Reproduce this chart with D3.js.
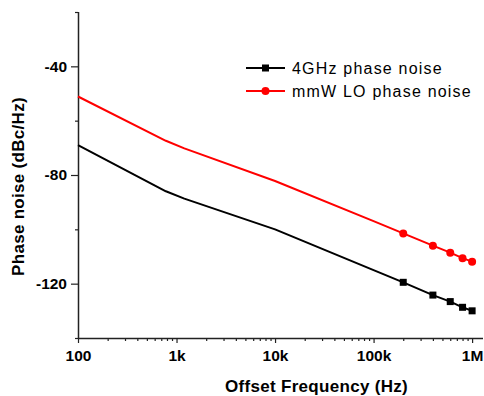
<!DOCTYPE html>
<html>
<head>
<meta charset="utf-8">
<script src="https://cdn.jsdelivr.net/npm/d3@7"></script>
<style>
  html, body { margin: 0; padding: 0; background: #fff; }
  svg { display: block; }
  text { font-family: "Liberation Sans", Arial, Helvetica, sans-serif; }
</style>
</head>
<body>
<svg id="chart" width="484" height="396"></svg>
<script>
// ---- data ----
const freqs = [100, 780, 1200, 10000, 100000, 200000, 400000, 600000, 800000, 1000000];
const noise4GHz = [-69.0, -86.0, -88.7, -100.0, -115.0, -119.5, -124.2, -126.6, -128.7, -130.0];
const noiseMmW  = [-51.1, -67.4, -70.2, -82.2, -97.0, -101.5, -106.0, -108.6, -110.6, -111.9];
const markerStart = 5; // markers drawn from 200k onward
const seriesNames = ["4GHz phase noise", "mmW LO phase noise"];
const xTickValues = [100, 1000, 10000, 100000, 1000000];
const xTickLabels = ["100", "1k", "10k", "100k", "1M"];
const yTickValues = [-20, -40, -60, -80, -100, -120, -140];
const yLabeled = [-40, -80, -120];

const svg = d3.select("#chart");
const plotLeft = 78, plotRight = 483, plotTop = 12, plotBottom = 338;

const x = d3.scaleLog().domain([100, 1.29e6]).range([plotLeft, plotRight]);
const y = d3.scaleLinear().domain([-140, -20]).range([plotBottom, plotTop]);

// ---- axes ----
const xMinor = [];
for (let d = 100; d < 1e6; d *= 10) for (let k = 2; k <= 9; k++) xMinor.push(d * k);
const xAxisMinor = d3.axisBottom(x).tickValues(xMinor).tickSize(3).tickFormat("");
const xAxisMajor = d3.axisBottom(x).tickValues(xTickValues).tickSize(5).tickPadding(7)
  .tickFormat((d, i) => xTickLabels[i]);

const gxm = svg.append("g").attr("transform", `translate(0,${plotBottom})`).call(xAxisMinor);
const gx = svg.append("g").attr("transform", `translate(0,${plotBottom})`).call(xAxisMajor);
[gxm, gx].forEach(g => {
  g.selectAll(".tick line").attr("stroke", "#222").attr("stroke-width", 1.2);
});
gxm.select(".domain").remove();
gx.select(".domain").attr("d", `M${plotLeft},0.5H${plotRight}`).attr("stroke", "#222").attr("stroke-width", 1.5);
gx.selectAll(".tick text").attr("fill", "#000").attr("font-size", "15.5px")
  .attr("font-weight", "bold").attr("font-family", "Liberation Sans, Arial, sans-serif");

const yAxis = d3.axisLeft(y).tickValues(yTickValues)
  .tickSize(0).tickPadding(5)
  .tickFormat(d => yLabeled.includes(d) ? d : "");
const gy = svg.append("g").attr("transform", `translate(${plotLeft},0)`).call(yAxis);
gy.select(".domain").attr("d", `M0.5,${plotTop}V${plotBottom}`).attr("stroke", "#222").attr("stroke-width", 1.5);
gy.selectAll(".tick line")
  .attr("x2", d => yLabeled.includes(d) ? -7 : -3)
  .attr("stroke", "#222").attr("stroke-width", 1.2);
gy.selectAll(".tick text").attr("x", -11).attr("fill", "#000").attr("font-size", "15.5px")
  .attr("font-weight", "bold").attr("font-family", "Liberation Sans, Arial, sans-serif");

// axis titles
svg.append("text")
  .attr("x", (plotLeft + plotRight) / 2 + 36).attr("y", 392)
  .attr("text-anchor", "middle").attr("font-size", "17px").attr("font-weight", "bold")
  .attr("letter-spacing", "0.3px")
  .text("Offset Frequency (Hz)");
svg.append("text")
  .attr("transform", `translate(24,${(96 + 277) / 2}) rotate(-90)`)
  .attr("text-anchor", "middle").attr("font-size", "17px").attr("font-weight", "bold")
  .attr("letter-spacing", "0.3px")
  .text("Phase noise (dBc/Hz)");

// ---- lines ----
const series = [
  { name: seriesNames[0], values: noise4GHz, color: "#000000", shape: "square" },
  { name: seriesNames[1], values: noiseMmW, color: "#ff0000", shape: "circle" }
];
const line = d3.line().x(d => x(d[0])).y(d => y(d[1])).curve(d3.curveLinear);

series.forEach(s => {
  const pts = freqs.map((f, i) => [f, s.values[i]]);
  svg.append("path").attr("d", line(pts)).attr("fill", "none")
    .attr("stroke", s.color).attr("stroke-width", 2).attr("stroke-linejoin", "round");
  const mk = pts.slice(markerStart);
  if (s.shape === "square") {
    svg.selectAll(null).data(mk).enter().append("rect")
      .attr("x", d => x(d[0]) - 3.5).attr("y", d => y(d[1]) - 3.5)
      .attr("width", 7).attr("height", 7).attr("fill", s.color);
  } else {
    svg.selectAll(null).data(mk).enter().append("circle")
      .attr("cx", d => x(d[0])).attr("cy", d => y(d[1])).attr("r", 4).attr("fill", s.color);
  }
});

// ---- legend ----
const legY = [68, 91];
series.forEach((s, i) => {
  const g = svg.append("g").attr("transform", `translate(246,${legY[i]})`);
  g.append("line").attr("x1", 0).attr("x2", 39).attr("y1", 0).attr("y2", 0)
    .attr("stroke", s.color).attr("stroke-width", 2);
  if (s.shape === "square") {
    g.append("rect").attr("x", 16).attr("y", -3.5).attr("width", 7).attr("height", 7).attr("fill", s.color);
  } else {
    g.append("circle").attr("cx", 19.5).attr("cy", 0).attr("r", 4).attr("fill", s.color);
  }
  g.append("text").attr("x", 46).attr("y", 5.5).attr("font-size", "16px")
    .attr("letter-spacing", "1.2px").attr("fill", "#000").text(s.name);
});
</script>
</body>
</html>
